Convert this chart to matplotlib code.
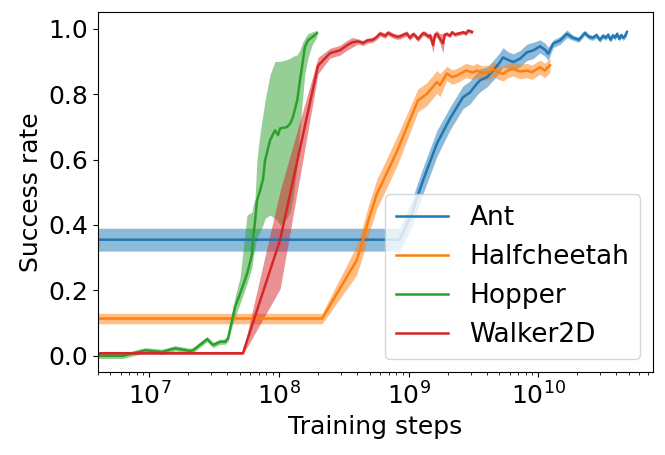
import numpy as np
import matplotlib
matplotlib.use("Agg")
import matplotlib.pyplot as plt

# Ant
ant_x = [4.0e6, 8.5e8, 1.06e9, 1.12e9, 1.29e9, 1.38e9, 1.65e9, 2.08e9, 2.62e9, 2.97e9,
         3.36e9, 3.55e9, 4.02e9, 4.47e9, 5.0e9, 5.34e9, 5.8e9, 6.4e9, 7.21e9, 8.17e9,
         9.08e9, 1.03e10, 1.13e10, 1.19e10, 1.30e10, 1.47e10, 1.66e10, 1.85e10, 2.05e10, 2.28e10,
         2.45e10, 2.63e10, 2.8e10, 2.98e10, 3.15e10, 3.3e10, 3.45e10, 3.6e10, 3.75e10, 3.9e10,
         4.05e10, 4.2e10, 4.35e10, 4.5e10, 4.65e10, 4.82e10]
ant_y = [0.355, 0.355, 0.435, 0.466, 0.536, 0.567, 0.649, 0.725, 0.79, 0.805,
         0.832, 0.842, 0.852, 0.872, 0.895, 0.912, 0.905, 0.898, 0.908, 0.928,
         0.933, 0.946, 0.935, 0.923, 0.954, 0.964, 0.984, 0.972, 0.966, 0.987,
         0.975, 0.972, 0.98, 0.966, 0.978, 0.972, 0.981, 0.966, 0.979, 0.973,
         0.984, 0.969, 0.98, 0.972, 0.977, 0.99]
ant_sd = [0.035, 0.035, 0.04, 0.04, 0.04, 0.04, 0.04, 0.035, 0.035, 0.035,
          0.035, 0.035, 0.03, 0.03, 0.03, 0.03, 0.025, 0.025, 0.025, 0.025,
          0.025, 0.02, 0.02, 0.02, 0.012, 0.012, 0.012, 0.008, 0.008, 0.008,
          0.008, 0.008, 0.008, 0.008, 0.008, 0.008, 0.008, 0.008, 0.008, 0.008,
          0.008, 0.008, 0.008, 0.008, 0.008, 0.008]

# Halfcheetah
hc_x = [4.0e6, 2.15e8, 3.97e8, 4.44e8, 4.85e8, 5.69e8, 6.22e8, 8.12e8, 1.18e9, 1.38e9,
        1.65e9, 1.74e9, 1.97e9, 2.16e9, 2.36e9, 2.49e9, 2.77e9, 3.13e9, 3.36e9, 3.7e9,
        4.24e9, 4.47e9, 4.89e9, 5.34e9, 5.8e9, 6.37e9, 7.21e9, 8.17e9, 8.9e9, 1.03e10,
        1.12e10, 1.23e10]
hc_y = [0.114, 0.114, 0.292, 0.353, 0.41, 0.496, 0.527, 0.625, 0.781, 0.80,
        0.837, 0.827, 0.863, 0.852, 0.857, 0.862, 0.872, 0.866, 0.872, 0.864,
        0.867, 0.877, 0.867, 0.862, 0.872, 0.877, 0.869, 0.872, 0.867, 0.882,
        0.872, 0.888]
hc_sd = [0.016, 0.016, 0.045, 0.045, 0.045, 0.045, 0.045, 0.045, 0.035, 0.035,
         0.035, 0.035, 0.022, 0.022, 0.022, 0.022, 0.022, 0.022, 0.022, 0.022,
         0.022, 0.022, 0.022, 0.022, 0.022, 0.022, 0.022, 0.022, 0.022, 0.022,
         0.022, 0.022]

# Hopper (band given as lower / upper edge)
hop_x = [4.0e6, 6.27e6, 9.27e6, 1.25e7, 1.58e7, 2.06e7, 2.17e7, 2.79e7, 3.10e7, 3.51e7,
         3.84e7, 4.05e7, 4.34e7, 4.58e7, 5.01e7, 5.66e7, 6.19e7, 6.31e7, 6.53e7, 6.76e7,
         7.14e7, 7.53e7, 7.80e7, 8.53e7, 9.31e7, 9.82e7, 1.02e8, 1.15e8, 1.22e8, 1.28e8,
         1.38e8, 1.45e8, 1.53e8, 1.58e8, 1.67e8, 1.80e8, 1.96e8]
hop_y = [0.0, 0.0, 0.017, 0.012, 0.023, 0.015, 0.017, 0.051, 0.033, 0.043,
         0.043, 0.054, 0.109, 0.15, 0.19, 0.25, 0.31, 0.36, 0.41, 0.475,
         0.505, 0.54, 0.597, 0.659, 0.689, 0.675, 0.695, 0.699, 0.71, 0.73,
         0.78, 0.842, 0.903, 0.943, 0.964, 0.974, 0.986]
hop_lo = [-0.008, -0.008, 0.009, 0.004, 0.015, 0.007, 0.009, 0.043, 0.025, 0.035,
          0.035, 0.044, 0.09, 0.12, 0.16, 0.22, 0.27, 0.30, 0.33, 0.36,
          0.38, 0.40, 0.42, 0.43, 0.42, 0.41, 0.40, 0.42, 0.44, 0.48,
          0.58, 0.69, 0.80, 0.86, 0.91, 0.95, 0.975]
hop_hi = [0.008, 0.008, 0.025, 0.02, 0.031, 0.023, 0.025, 0.059, 0.041, 0.051,
          0.051, 0.064, 0.13, 0.18, 0.24, 0.43, 0.44, 0.46, 0.48, 0.60,
          0.68, 0.74, 0.78, 0.86, 0.90, 0.90, 0.90, 0.905, 0.91, 0.915,
          0.92, 0.935, 0.96, 0.97, 0.985, 0.99, 0.995]

# Walker2D
wk_x = [4.0e6, 5.27e7, 1.02e8, 2.0e8, 2.47e8, 2.95e8, 3.34e8, 3.66e8, 4.06e8, 4.44e8,
        4.76e8, 5.30e8, 5.69e8, 6.0e8, 6.56e8, 6.92e8, 7.57e8, 8.12e8, 8.57e8, 9.2e8,
        9.7e8, 1.02e9, 1.08e9, 1.12e9, 1.18e9, 1.22e9, 1.29e9, 1.34e9, 1.42e9, 1.46e9,
        1.54e9, 1.60e9, 1.65e9, 1.74e9, 1.84e9, 1.90e9, 1.97e9, 2.08e9, 2.16e9, 2.28e9,
        2.36e9, 2.49e9, 2.62e9, 2.77e9, 2.87e9, 3.08e9]
wk_y = [0.008, 0.008, 0.355, 0.887, 0.925, 0.934, 0.949, 0.958, 0.961, 0.956,
        0.963, 0.966, 0.975, 0.985, 0.978, 0.987, 0.979, 0.975, 0.976, 0.982,
        0.985, 0.972, 0.983, 0.979, 0.968, 0.975, 0.986, 0.984, 0.976, 0.979,
        0.950, 0.982, 0.984, 0.970, 0.955, 0.982, 0.984, 0.978, 0.989, 0.982,
        0.984, 0.986, 0.989, 0.985, 0.994, 0.990]
wk_sd = [0.004, 0.004, 0.15, 0.025, 0.015, 0.015, 0.015, 0.015, 0.008, 0.008,
         0.008, 0.008, 0.008, 0.008, 0.008, 0.008, 0.008, 0.008, 0.008, 0.008,
         0.008, 0.008, 0.008, 0.008, 0.008, 0.008, 0.008, 0.008, 0.008, 0.008,
         0.025, 0.01, 0.01, 0.015, 0.03, 0.006, 0.006, 0.006, 0.006, 0.006,
         0.006, 0.006, 0.006, 0.006, 0.006, 0.006]

fig = plt.figure(figsize=(6.65, 4.55), dpi=100)
ax = fig.add_axes([0.147, 0.182, 0.835, 0.791])

def band(x, y, sd, color, label):
    x, y, sd = np.array(x), np.array(y), np.array(sd)
    ax.plot(x, y, color=color, label=label, linewidth=1.8)
    ax.fill_between(x, y - sd, y + sd, color=color, alpha=0.5, linewidth=0)

band(ant_x, ant_y, ant_sd, "C0", "Ant")
band(hc_x, hc_y, hc_sd, "C1", "Halfcheetah")
ax.plot(hop_x, hop_y, color="C2", label="Hopper", linewidth=1.8)
ax.fill_between(hop_x, hop_lo, hop_hi, color="C2", alpha=0.5, linewidth=0)
band(wk_x, wk_y, wk_sd, "C3", "Walker2D")

ax.set_xscale("log")
ax.set_xlim(4.0e6, 7.66e10)
ax.set_ylim(-0.05, 1.05)
ax.set_xlabel("Training steps", fontsize=18)
ax.set_ylabel("Success rate", fontsize=18)
ax.tick_params(axis="both", which="major", labelsize=18)
ax.legend(loc="lower right", fontsize=19)

fig.savefig("out.png", dpi=100)
